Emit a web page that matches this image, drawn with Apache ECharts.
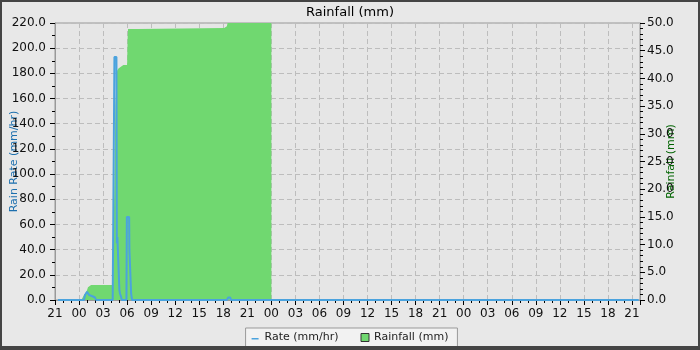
<!DOCTYPE html>
<html>
<head>
<meta charset="utf-8">
<script src="https://cdn.jsdelivr.net/npm/echarts@6/dist/echarts.min.js"></script>
<style>
  html, body { margin: 0; padding: 0; background: #e8e8e8; }
  #wrap { position: relative; width: 700px; height: 350px; }
  #chart { width: 700px; height: 350px; }
  #frame { position: absolute; left: 0; top: 0; width: 700px; height: 350px; box-sizing: border-box;
           border: 2px solid #444; border-bottom-width: 4px; pointer-events: none; }
</style>
</head>
<body>
<div id="wrap">
  <div id="chart"></div>
  <div id="frame"></div>
</div>
<script>
// times are "day HH:MM", day 0 is the day the chart starts at 21:00
var rateTimes = ['0 21:22', '1 00:37', '1 00:45', '1 01:00', '1 01:07', '1 01:15', '1 01:22', '1 01:40', '1 01:50', '1 02:00', '1 02:07',
                 '1 04:12', '1 04:17', '1 04:25', '1 04:40', '1 04:43', '1 04:47', '1 05:00', '1 05:02', '1 05:07', '1 05:15', '1 05:20',
                 '1 05:55', '1 05:58', '1 06:15', '1 06:17', '1 06:22', '1 06:30', '1 06:37',
                 '1 18:27', '1 18:37', '1 18:52', '1 18:58', '3 21:50'];
var rateValues = [0, 0, 4, 6.5, 6, 4, 3, 3, 2, 2, 0,
                  0, 75, 193, 193, 45, 50, 50, 8, 5, 2.5, 0,
                  0, 66, 66, 40, 40, 5, 0,
                  0, 2, 2, 0, 0];

var rainTimes = ['0 21:22', '1 00:17', '1 00:22', '1 00:37', '1 00:52', '1 01:00', '1 01:07', '1 01:15', '1 01:30', '1 04:15',
                 '1 04:22', '1 04:32', '1 04:45', '1 04:55', '1 05:07', '1 05:32', '1 06:00', '1 06:04', '1 06:07', '1 07:22',
                 '1 07:30', '1 18:07', '1 18:12', '1 18:27', '1 18:32', '2 00:00'];
var rainValues = [0, 0, 0.3, 0.9, 1.4, 1.8, 2.3, 2.5, 2.7, 2.7,
                  17, 35, 41.4, 41.8, 42.1, 42.4, 42.4, 47.5, 48.9, 48.9,
                  49.1, 49.1, 49.4, 49.4, 50, 50];

var seriesNames = ['Rate (mm/hr)', 'Rainfall (mm)'];

function hrs(s) {
    var p = s.split(' ');
    var hm = p[1].split(':');
    return Number(p[0]) * 24 + Number(hm[0]) + Number(hm[1]) / 60 - 21;
}
function pairs(times, vals) {
    return times.map(function (t, i) { return [hrs(t), vals[i]]; });
}

var font = 'DejaVu Sans';
var myChart = echarts.init(document.getElementById('chart'));
var option = {
    backgroundColor: '#e8e8e8',
    animation: false,
    textStyle: { fontFamily: font },
    title: {
        text: 'Rainfall (mm)',
        left: 'center',
        top: 3,
        padding: [3, 0, 0, 0],
        textStyle: { fontFamily: font, fontSize: 13, fontWeight: 'normal', color: '#000' }
    },
    legend: {
        bottom: 3,
        left: 'center',
        padding: [4, 9, 4, 6],
        itemWidth: 8,
        itemHeight: 8,
        itemGap: 22,
        borderColor: '#999',
        borderWidth: 1,
        backgroundColor: '#f2f2f2',
        textStyle: { fontFamily: font, fontSize: 11, color: '#222' },
        data: [
            { name: seriesNames[0], icon: 'path://M0,0L0,0.01M8,8L8,8.01M0,4.5h7v1.5h-7z' },
            { name: seriesNames[1], icon: 'rect', itemStyle: { color: '#70d870', borderColor: '#333', borderWidth: 1 } }
        ]
    },
    grid: {
        left: 55, right: 60, top: 23, bottom: 50,
        outerBoundsMode: 'none',
        containLabel: false,
        show: true,
        borderColor: '#999',
        borderWidth: 1,
        backgroundColor: '#e6e6e6'
    },
    xAxis: {
        type: 'value',
        min: 0,
        max: 73,
        interval: 3,
        axisLine: { lineStyle: { color: '#999' } },
        axisTick: { length: 5, lineStyle: { color: '#000' } },
        minorTick: { show: true, splitNumber: 3, length: 3, lineStyle: { color: '#000' } },
        axisLabel: {
            fontFamily: font, fontSize: 12, color: '#111', margin: 8,
            showMaxLabel: false,
            formatter: function (v) { return String((21 + v) % 24).padStart(2, '0'); }
        },
        splitLine: { show: true, lineStyle: { color: '#bdbdbd', type: [5, 3] } }
    },
    yAxis: [{
        type: 'value',
        min: 0,
        max: 220,
        interval: 20,
        name: 'Rain Rate (mm/hr)',
        nameLocation: 'middle',
        nameRotate: 90,
        nameGap: 35,
        nameMoveOverlap: false,
        nameTextStyle: { fontFamily: font, fontSize: 11, color: '#1c6fae' },
        axisLine: { show: true, lineStyle: { color: '#999' } },
        axisTick: { show: true, length: 5, lineStyle: { color: '#000' } },
        minorTick: { show: true, splitNumber: 2, length: 3, lineStyle: { color: '#000' } },
        axisLabel: {
            fontFamily: font, fontSize: 12, color: '#111', margin: 9,
            formatter: function (v) { return v.toFixed(1); }
        },
        splitLine: { show: true, lineStyle: { color: '#bdbdbd', type: [5, 3] } }
    }, {
        type: 'value',
        position: 'right',
        min: 0,
        max: 50,
        interval: 5,
        name: 'Rainfall (mm)',
        nameLocation: 'middle',
        nameRotate: 90,
        nameGap: 26,
        nameMoveOverlap: false,
        nameTextStyle: { fontFamily: font, fontSize: 11, color: '#006400' },
        axisLine: { show: true, lineStyle: { color: '#999' } },
        axisTick: { show: true, length: 5, lineStyle: { color: '#000' } },
        minorTick: { show: true, splitNumber: 5, length: 3, lineStyle: { color: '#000' } },
        axisLabel: {
            fontFamily: font, fontSize: 12, color: '#111', margin: 7,
            formatter: function (v) { return v.toFixed(1); }
        },
        splitLine: { show: false }
    }],
    series: [{
        name: seriesNames[1],
        type: 'line',
        yAxisIndex: 1,
        showSymbol: false,
        color: '#70d870',
        lineStyle: { width: 0 },
        areaStyle: { color: '#70d870', opacity: 1 },
        data: pairs(rainTimes, rainValues),
        z: 2
    }, {
        name: seriesNames[0],
        type: 'line',
        yAxisIndex: 0,
        showSymbol: false,
        color: '#4ba3de',
        lineStyle: { width: 2, color: '#4ba3de' },
        data: pairs(rateTimes, rateValues),
        z: 3
    }]
};
myChart.setOption(option);
</script>
</body>
</html>
